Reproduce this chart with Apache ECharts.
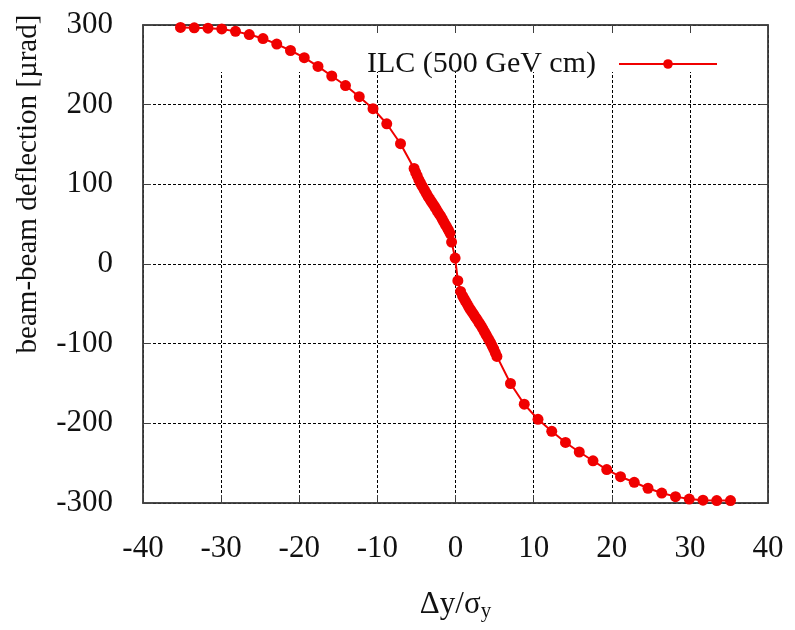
<!DOCTYPE html>
<html>
<head>
<meta charset="utf-8">
<script src="https://cdn.jsdelivr.net/npm/echarts@6/dist/echarts.min.js"></script>
<style>
  html, body { margin: 0; padding: 0; background: #fff; }
  #myChart { width: 795px; height: 630px; }
</style>
</head>
<body>
<div id="myChart"></div>
<script>
// offset Δy/σy
const offsetValues = [
  -35.2, -33.44, -31.68, -29.92, -28.16, -26.4, -24.64, -22.88, -21.12, -19.36,
  -17.6, -15.84, -14.08, -12.32, -10.56, -8.8, -7.04,
  -5.3, -5.1, -4.9, -4.7, -4.5, -4.3, -4.1, -3.9, -3.7, -3.5, -3.3, -3.1,
  -2.9, -2.7, -2.5, -2.3, -2.1, -1.9, -1.7, -1.5, -1.3, -1.1, -0.9, -0.7,
  -0.5, -0.05, 0.3, 0.65,
  0.9, 1.1, 1.3, 1.5, 1.7, 1.9, 2.1, 2.3, 2.5, 2.7, 2.9, 3.1, 3.3, 3.5,
  3.7, 3.9, 4.1, 4.3, 4.5, 4.7, 4.9, 5.1, 5.3,
  7.04, 8.8, 10.56, 12.32, 14.08, 15.84, 17.6, 19.36, 21.12, 22.88,
  24.64, 26.4, 28.16, 29.92, 31.68, 33.44, 35.2
];
// beam-beam deflection [µrad]
const deflectionValues = [
  297, 296.5, 296, 295, 292, 288, 283, 276, 268, 259,
  248, 236, 224, 210, 195, 176, 151,
  120, 115, 110.5, 106, 102, 98.5, 95, 91.5, 88, 84.5, 81.5, 78.5,
  75.5, 72.5, 69.5, 66, 63, 60, 56.5, 53, 49.5, 46, 42.5, 38.5,
  27.5, 7.5, -21, -34.5,
  -40, -43.5, -47, -50.5, -54, -57, -60, -63, -66, -69, -72, -75, -78, -81.5,
  -85, -88.5, -92, -95.5, -99, -103, -107, -111.5, -116,
  -150, -176, -195, -210, -224, -236, -247, -258, -267, -274,
  -281.5, -287.5, -292, -295, -296.5, -297, -297
];
const seriesName = "ILC (500 GeV cm)";

const serif = "Liberation Serif";
const frameColor = "#404040";
const red = "#f00000";

const gridLine = {
  show: true,
  lineStyle: { color: "#000", width: 1, type: [3, 2] },
};

const option = {
  backgroundColor: "#fff",
  animation: false,
  grid: {
    left: 143,
    right: 27,
    top: 25,
    bottom: 127,
    show: true,
    borderColor: frameColor,
    borderWidth: 1.5,
  },
  legend: {
    data: [seriesName],
    right: 72,
    top: 44,
    align: "right",
    itemWidth: 98,
    itemHeight: 12,
    textStyle: {
      fontFamily: serif,
      fontSize: 30,
      color: "#111",
      padding: [0, 18, 0, 0],
    },
  },
  xAxis: [
    {
      type: "value",
      min: -40,
      max: 40,
      interval: 10,
      name: "{a|Δy/σ}{s|y}",
      nameLocation: "middle",
      nameGap: 84,
      nameTextStyle: {
        rich: {
          a: { fontFamily: serif, fontSize: 31, color: "#111" },
          s: { fontFamily: serif, fontSize: 21, color: "#111", padding: [14, 0, 0, 0] },
        },
      },
      axisLine: { show: true, onZero: false, lineStyle: { color: frameColor, width: 1.5 } },
      axisTick: { show: true, inside: true, length: 8, lineStyle: { color: frameColor } },
      axisLabel: { fontFamily: serif, fontSize: 31, color: "#111", margin: 30 },
      splitLine: gridLine,
    },
    {
      // 上方镜像刻度
      type: "value",
      position: "top",
      min: -40,
      max: 40,
      interval: 10,
      z: 3,
      axisLine: { show: true, onZero: false, lineStyle: { color: frameColor, width: 1.5 } },
      axisTick: { show: true, inside: true, length: 8, lineStyle: { color: frameColor } },
      axisLabel: { show: false },
      splitLine: { show: false },
    },
  ],
  yAxis: [
    {
      type: "value",
      min: -300,
      max: 300,
      interval: 100,
      name: "beam-beam deflection [µrad]",
      nameLocation: "middle",
      nameGap: 100,
      nameTextStyle: {
        fontFamily: serif,
        fontSize: 29,
        color: "#111",
        padding: [0, 0, 0, 160],
      },
      axisLine: { show: true, onZero: false, lineStyle: { color: frameColor, width: 1.5 } },
      axisTick: { show: true, inside: true, length: 8, lineStyle: { color: frameColor } },
      axisLabel: { fontFamily: serif, fontSize: 31, color: "#111", margin: 30 },
      splitLine: gridLine,
    },
    {
      // 右侧镜像刻度
      type: "value",
      position: "right",
      min: -300,
      max: 300,
      interval: 100,
      z: 3,
      axisLine: { show: true, onZero: false, lineStyle: { color: frameColor, width: 1.5 } },
      axisTick: { show: true, inside: true, length: 8, lineStyle: { color: frameColor } },
      axisLabel: { show: false },
      splitLine: { show: false },
    },
  ],
  // gnuplot 的竖向网格线在图例那一条里是断开的
  graphic: [
    {
      type: "rect",
      left: 145,
      top: 27,
      shape: { width: 621, height: 45 },
      z: 1,
      silent: true,
      style: { fill: "#fff" },
    },
  ],
  series: [
    {
      name: seriesName,
      type: "line",
      data: offsetValues.map((x, i) => [x, deflectionValues[i]]),
      symbol: "circle",
      symbolSize: 11,
      showAllSymbol: true,
      z: 4,
      itemStyle: { color: red },
      lineStyle: { color: red, width: 2 },
    },
  ],
};

const chartInstance = echarts.init(document.getElementById("myChart"));
chartInstance.setOption(option);
</script>
</body>
</html>
